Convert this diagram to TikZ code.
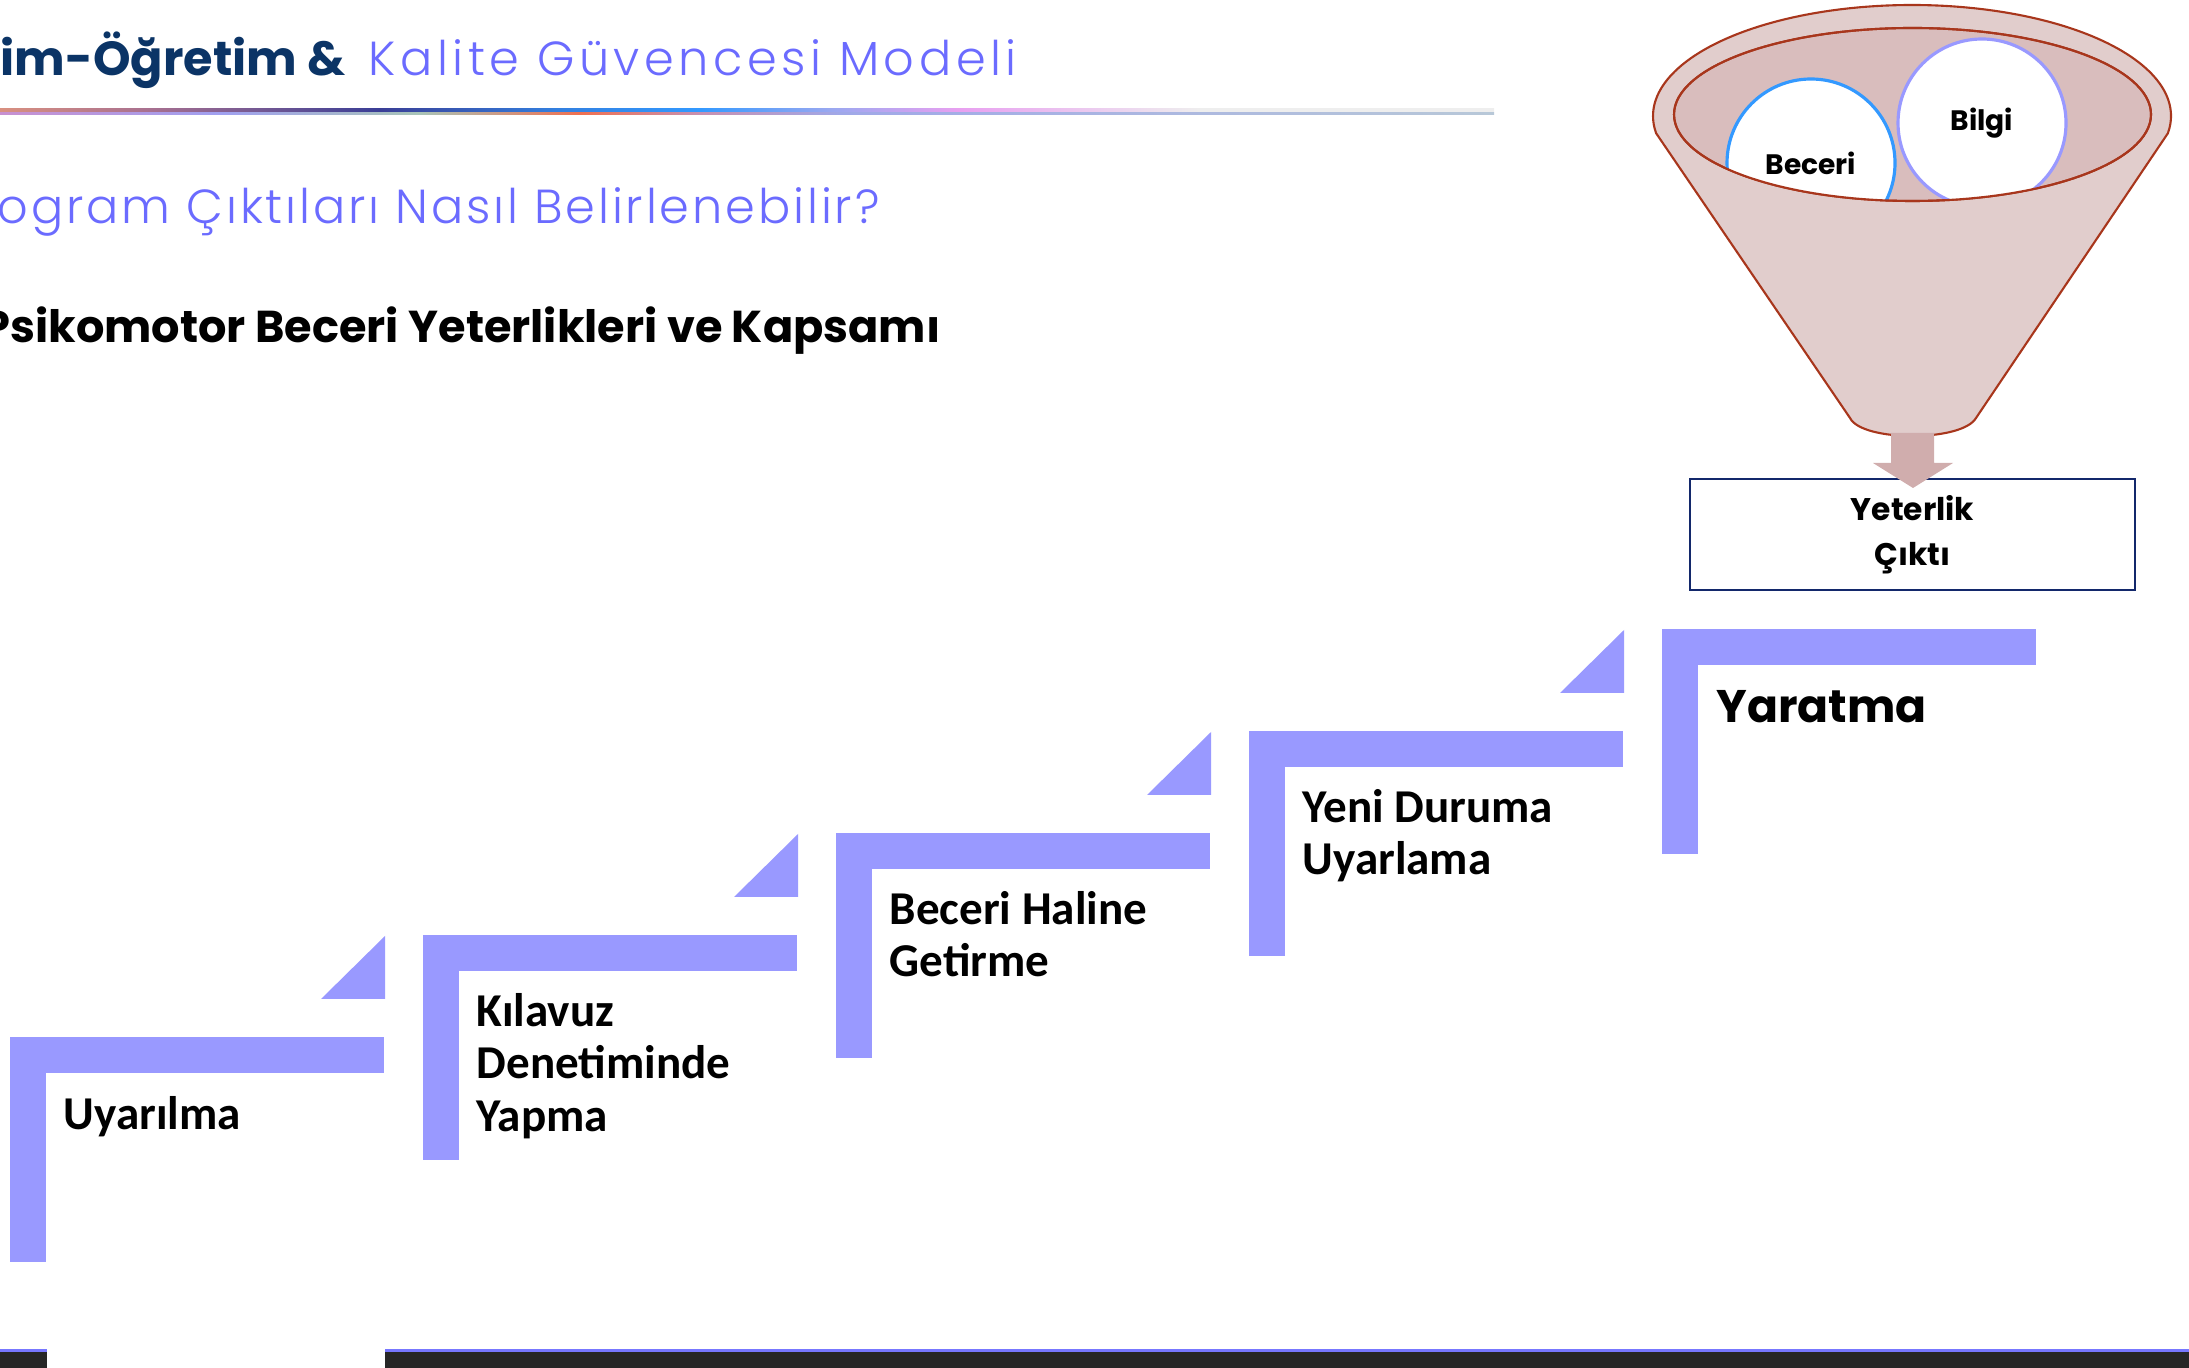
\documentclass[tikz,border=0pt]{standalone}
\usepackage{fontspec}
\setmainfont{Carlito}
\newfontfamily\gothic{Poppins}
\newfontfamily\gothiclight{Poppins Light}[LetterSpace=6]
\newfontfamily\gothictitle{Poppins Light}[LetterSpace=9.5]

\definecolor{stepblue}{HTML}{9999FF}
\definecolor{titlenavy}{HTML}{0B3466}
\definecolor{lilac}{HTML}{6B6BFF}
\definecolor{funnelbody}{HTML}{E1CDCC}
\definecolor{funnelin}{HTML}{D9BDBD}
\definecolor{funnelrim}{HTML}{A8361C}
\definecolor{arrowrose}{HTML}{D0ADAD}
\definecolor{boxnavy}{HTML}{13286B}
\definecolor{becerblue}{HTML}{3399FF}
\definecolor{bandgrey}{HTML}{262626}
\definecolor{bandline}{HTML}{7777FF}
\definecolor{la}{HTML}{D99080}\definecolor{lb}{HTML}{A87090}\definecolor{lc}{HTML}{3A3E96}
\definecolor{ld}{HTML}{3380E0}\definecolor{le}{HTML}{3399FF}\definecolor{lf}{HTML}{9AA8F0}
\definecolor{lg}{HTML}{E8A0F0}\definecolor{lh}{HTML}{EEEEEE}
\definecolor{ma}{HTML}{C890D0}\definecolor{mb}{HTML}{A0A0F0}\definecolor{mc}{HTML}{A8C4B8}
\definecolor{md}{HTML}{F07050}\definecolor{me}{HTML}{C890B0}\definecolor{mf}{HTML}{A0A8E8}
\definecolor{mg}{HTML}{B8C8D8}

\pgfdeclarehorizontalshading{lineup}{100bp}{color(0bp)=(la); color(25bp)=(la);
  color(30bp)=(lb); color(37.7bp)=(lc); color(43.7bp)=(ld); color(48.4bp)=(le);
  color(52.8bp)=(lf); color(57.1bp)=(lg); color(65.2bp)=(lh); color(100bp)=(lh)}
\pgfdeclarehorizontalshading{linedown}{100bp}{color(0bp)=(ma); color(25bp)=(ma);
  color(32.4bp)=(mb); color(39bp)=(mc); color(44.4bp)=(md); color(48.4bp)=(me);
  color(53.1bp)=(mf); color(75bp)=(mg); color(100bp)=(mg)}

\begin{document}
\begin{tikzpicture}[x=0.1mm,y=-0.1mm,
    stepbar/.style={fill=stepblue},
    steplabel/.style={anchor=base west, inner sep=0, align=left,
      font=\bfseries\fontsize{13.4}{14.8}\selectfont},
    ball/.style={circle, fill=white, line width=0.9pt, minimum size=16.8mm, inner sep=0,
      font=\gothic\bfseries\fontsize{8}{9}\selectfont},
    rim/.style={draw=funnelrim, line width=0.6pt}
    ]
    \useasboundingbox (0,0) rectangle (2189,1368);

    \node [anchor=base west, inner sep=0, text=titlenavy, font=\gothic\bfseries\fontsize{13.6}{15}\selectfont] (titleA) at (0,76) {im-Öğretim \&};
    \node [anchor=base west, inner sep=0, text=lilac, font=\gothictitle\fontsize{13.6}{15}\selectfont] (titleB) at (368,76) {Kalite Güvencesi Modeli};
    \shade[shading=lineup] (0,109) rectangle (1494,111.5);
    \shade[shading=linedown] (0,112.5) rectangle (1494,115);
    \node [anchor=base west, inner sep=0, text=lilac, font=\gothiclight\fontsize{13.6}{15}\selectfont] (subtitle) at (-3,224) {ogram Çıktıları Nasıl Belirlenebilir?};
    \node [anchor=base west, inner sep=0, font=\gothic\bfseries\fontsize{12.7}{15}\selectfont] (heading) at (-18,343) {Psikomotor Beceri Yeterlikleri ve Kapsamı};

    \foreach \i/\n/\txt in {0/1/Uyarılma, 1/3/{Kılavuz\\Denetiminde\\Yapma}, 2/2/{Beceri Haline\\Getirme}, 3/2/{Yeni Duruma\\Uyarlama}}{
      \pgfmathsetmacro{\sx}{10+413*\i}
      \pgfmathsetmacro{\sy}{1037-102*\i}
      \fill[stepbar] (\sx,\sy) rectangle ++(374,36);
      \fill[stepbar] (\sx,\sy) rectangle ++(36,225);
      \fill[stepbar] (\sx+311,\sy-38) -- ++(64,0) -- ++(0,-63) -- cycle;
      \node [steplabel] (step\i) at (\sx+53,\sy+92+52*\n-52) {\txt};
    }
    \fill[stepbar] (1662,629) rectangle ++(374,36);
    \fill[stepbar] (1662,629) rectangle ++(36,225);
    \node [anchor=base west, inner sep=0, font=\gothic\bfseries\fontsize{13}{16}\selectfont] (step4) at (1716,723) {Yaratma};

    \filldraw[rim, fill=funnelbody] plot[smooth, domain=171:369, samples=80] ({1912+259*cos(\x)},{116+111*sin(\x)})
      -- (1976,418) .. controls (1962,442) and (1862,442) .. (1850,418) -- cycle;
    \filldraw[rim, fill=funnelin] (1912.5,114.5) ellipse [x radius=238.5, y radius=86.5];
    \begin{scope}
      \clip (1912.5,114.5) ellipse [x radius=238.5, y radius=86.5];
      \node [ball, draw=becerblue] (beceri) at (1811,163) {Beceri};
      \node [ball, draw=stepblue] (bilgi) at (1982,123) {Bilgi};
    \end{scope}
    \draw[rim] (1912.5,114.5) ellipse [x radius=238.5, y radius=86.5];

    \node [draw=boxnavy, line width=0.7pt, minimum width=44.5mm, minimum height=11.1mm, align=center,
      font=\gothic\bfseries\fontsize{8.9}{12.8}\selectfont] (output) at (1912.5,534.5) {Yeterlik\\Çıktı};
    \fill[arrowrose] (1891,433) -- (1934,433) -- (1934,463) -- (1953,463) -- (1913,488)
      -- (1873,463) -- (1891,463) -- cycle;

    \fill[bandline] (0,1349) rectangle (47,1352);
    \fill[bandgrey] (0,1352) rectangle (47,1368);
    \fill[bandline] (385,1349) rectangle (2189,1352);
    \fill[bandgrey] (385,1352) rectangle (2189,1368);
\end{tikzpicture}
\end{document}
